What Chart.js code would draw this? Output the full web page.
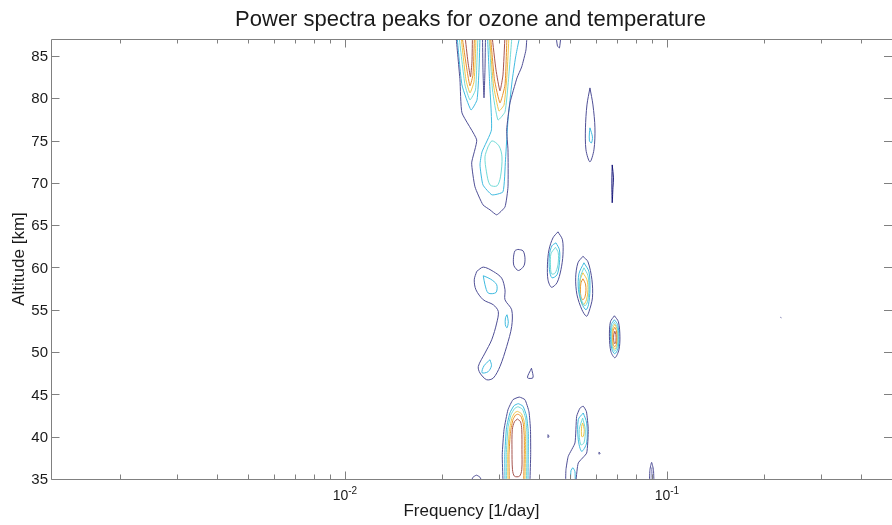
<!DOCTYPE html>
<html>
<head>
<meta charset="utf-8">
<script src="https://cdn.jsdelivr.net/npm/chart.js@4.4.1/dist/chart.umd.min.js"></script>
<style>
  html, body { margin: 0; padding: 0; background: #fff; }
  #wrap { width: 892px; height: 525px; position: relative; }
</style>
</head>
<body>
<div id="wrap"><canvas id="chart_powerSpectraPeaks"></canvas></div>
<script>
// axis ticks
var yTicks = [35, 40, 45, 50, 55, 60, 65, 70, 75, 80, 85];
var xMajorTicks = [0.01, 0.1];
var xMajorExponents = ['-2', '-1'];
var xMinorTicks = [0.002, 0.003, 0.004, 0.005, 0.006, 0.007, 0.008, 0.009,
                   0.02, 0.03, 0.04, 0.05, 0.06, 0.07, 0.08, 0.09,
                   0.2, 0.3, 0.4];

// contour lines, [frequency 1/day, altitude km]
// upper cluster
var navyTopOuter = [[0.02212,87.4],[0.02276,82.17],[0.02309,78.27],[0.02565,75.08],[0.02475,72.36],[0.02534,69.53],[0.02683,67.40],[0.02821,66.81],[0.02960,66.22],[0.03141,67.16],[0.03209,69.53],[0.03209,73.90],[0.03179,76.26],[0.03255,79.45],[0.03422,82.40],[0.03539,83.70],[0.03649,85.71],[0.03675,87.4]];
var navyNotch = [[0.02674,87.4],[0.02683,83.35],[0.02703,80.04],[0.02722,83.35],[0.02732,87.4]];
var navyTopRight = [[0.04522,87.4],[0.04571,86.18],[0.04636,85.94],[0.04686,87.4]];
var cyanL = [[0.02228,87.4],[0.02309,81.57],[0.02463,78.62],[0.02571,79.80],[0.02608,83.35],[0.02627,87.4]];
var turqL = [[0.02260,87.4],[0.02359,81.57],[0.02445,79.80],[0.02543,80.98],[0.02571,84.53],[0.02589,87.4]];
var yellowL = [[0.02292,87.4],[0.02376,82.17],[0.02445,80.63],[0.02516,81.93],[0.02543,85.12],[0.02552,87.4]];
var orangeL = [[0.02309,87.4],[0.02393,83.35],[0.02445,81.46],[0.02498,82.76],[0.02525,87.4]];
var brownL = [[0.02359,87.4],[0.02410,84.29],[0.02454,82.52],[0.02480,84.29],[0.02489,87.4]];
var brownR = [[0.02862,87.4],[0.02945,83.35],[0.03030,80.87],[0.03096,82.76],[0.03141,87.4]];
var orangeR = [[0.02831,87.4],[0.02914,82.17],[0.03030,79.45],[0.03141,81.57],[0.03186,87.4]];
var yellowR = [[0.02811,87.4],[0.02893,81.57],[0.03008,78.50],[0.03119,79.21],[0.03186,82.76],[0.03232,87.4]];
var turqR = [[0.02801,87.4],[0.02872,80.98],[0.02987,77.44],[0.03141,78.39],[0.03220,82.17],[0.03302,87.4]];
var cyanR = [[0.02771,87.4],[0.02811,82.17],[0.02851,76.26],[0.02665,73.66],[0.02627,72.12],[0.02683,69.76],[0.02862,68.58],[0.03096,68.94],[0.03152,72.72],[0.03209,77.44],[0.03302,81.93],[0.03385,84.76],[0.03446,86.30],[0.03496,87.4]];
var turqBulb = [[0.02781,74.25],[0.02862,74.96],[0.03008,74.37],[0.03074,73.07],[0.03041,70.71],[0.02966,69.64],[0.02821,69.76],[0.02751,71.30],[0.02722,73.07],[0.02781,74.25]];
var navyE76 = [[0.05766,81.22],[0.05891,79.21],[0.05976,76.50],[0.05933,73.90],[0.05766,72.48],[0.05604,73.90],[0.05584,76.50],[0.05644,79.21],[0.05766,81.22]];
var cyanE76 = [[0.05766,76.50],[0.05870,75.43],[0.05828,74.72],[0.05745,74.96],[0.05745,75.90],[0.05766,76.50]];
var deepLine = [[0.06762,72.12],[0.06821,70.59],[0.06796,69.41],[0.06762,67.64],[0.06748,69.17],[0.06748,70.59],[0.06762,72.12]];

// middle cluster
var navyLoop61 = [[0.03446,62.14],[0.03572,61.97],[0.03623,61.14],[0.03597,60.20],[0.03458,59.64],[0.03349,60.20],[0.03337,61.14],[0.03373,61.97],[0.03446,62.14]];
var navyE61 = [[0.04587,64.21],[0.04737,63.27],[0.04754,61.49],[0.04686,59.73],[0.04555,58.19],[0.04379,57.66],[0.04271,58.54],[0.04255,60.31],[0.04301,62.08],[0.04426,63.50],[0.04587,64.21]];
var cyanE61 = [[0.04522,62.91],[0.04636,62.08],[0.04636,60.55],[0.04555,59.13],[0.04394,58.78],[0.04316,59.73],[0.04316,61.49],[0.04394,62.56],[0.04522,62.91]];
var turqE61 = [[0.04506,62.38],[0.04597,61.73],[0.04587,60.31],[0.04490,59.31],[0.04379,59.25],[0.04348,60.31],[0.04363,61.61],[0.04506,62.38]];
var navyE57 = [[0.05484,61.32],[0.05685,60.67],[0.05849,58.54],[0.05870,56.41],[0.05725,54.76],[0.05624,54.23],[0.05445,55.00],[0.05255,56.77],[0.05206,58.78],[0.05292,60.55],[0.05484,61.32]];
var cyanE57 = [[0.05524,60.55],[0.05725,59.49],[0.05766,57.36],[0.05705,55.59],[0.05604,55.00],[0.05445,55.71],[0.05311,57.36],[0.05330,59.25],[0.05524,60.55]];
var turqE57 = [[0.05524,59.96],[0.05685,59.02],[0.05725,57.36],[0.05664,55.94],[0.05564,55.47],[0.05426,56.18],[0.05349,57.36],[0.05387,58.90],[0.05524,59.96]];
var yellowE57 = [[0.05484,59.37],[0.05644,58.54],[0.05685,57.36],[0.05624,56.18],[0.05504,55.59],[0.05387,56.18],[0.05360,57.36],[0.05387,58.66],[0.05484,59.37]];
var orangeE57 = [[0.05484,58.66],[0.05584,58.07],[0.05604,57.25],[0.05564,56.53],[0.05484,56.18],[0.05407,56.53],[0.05387,57.36],[0.05407,58.19],[0.05484,58.66]];
var navyE51 = [[0.06869,54.29],[0.07069,53.58],[0.07145,51.81],[0.07094,50.27],[0.06894,49.33],[0.06700,50.04],[0.06628,51.81],[0.06676,53.58],[0.06869,54.29]];
var cyanE51 = [[0.06869,53.82],[0.07033,53.23],[0.07094,51.81],[0.07044,50.39],[0.06884,49.80],[0.06739,50.39],[0.06676,51.81],[0.06715,53.23],[0.06869,53.82]];
var turqE51 = [[0.06869,53.52],[0.07004,52.99],[0.07054,51.81],[0.07009,50.63],[0.06884,50.10],[0.06762,50.63],[0.06715,51.81],[0.06748,52.99],[0.06869,53.52]];
var yellowE51 = [[0.06884,53.29],[0.06993,52.75],[0.07033,51.75],[0.06993,50.75],[0.06884,50.33],[0.06786,50.75],[0.06748,51.75],[0.06777,52.75],[0.06884,53.29]];
var orangeE51 = [[0.06884,52.93],[0.06968,52.52],[0.06993,51.69],[0.06964,50.92],[0.06884,50.63],[0.06810,50.92],[0.06786,51.69],[0.06806,52.52],[0.06884,52.93]];
var brownE51 = [[0.06889,52.46],[0.06944,52.05],[0.06944,51.34],[0.06889,50.98],[0.06835,51.34],[0.06835,52.05],[0.06889,52.46]];
var navyHook = [[0.02565,59.53],[0.02689,60.04],[0.02889,59.53],[0.03067,58.74],[0.03141,57.36],[0.03141,56.18],[0.03295,55.00],[0.03295,53.03],[0.03179,50.66],[0.03030,48.30],[0.02889,46.93],[0.02755,46.73],[0.02627,47.52],[0.02595,48.30],[0.02722,49.88],[0.02856,51.45],[0.02960,53.43],[0.02994,54.80],[0.02889,55.59],[0.02689,56.18],[0.02552,57.36],[0.02521,58.54],[0.02565,59.53]];
var cyanHook1 = [[0.02689,59.02],[0.02835,58.62],[0.02960,57.96],[0.02945,57.04],[0.02787,56.97],[0.02722,57.96],[0.02689,59.02]];
var cyanHook2 = [[0.03186,54.41],[0.03216,53.58],[0.03186,52.87],[0.03148,53.23],[0.03152,54.06],[0.03186,54.41]];
var cyanHook3 = [[0.02821,49.09],[0.02851,48.38],[0.02781,47.67],[0.02665,47.56],[0.02703,48.38],[0.02821,49.09]];
var navyTri = [[0.03796,48.09],[0.03837,46.97],[0.03688,46.97],[0.03796,48.09]];

// lower cluster
var navyB1 = [[0.03096,34.8],[0.03080,37.88],[0.03119,40.83],[0.03209,43.19],[0.03325,44.37],[0.03478,44.68],[0.03623,44.37],[0.03728,42.95],[0.03769,40.83],[0.03774,37.88],[0.03755,34.8]];
var cyanB1 = [[0.03141,34.8],[0.03136,37.88],[0.03175,41.06],[0.03255,42.83],[0.03349,43.66],[0.03453,43.90],[0.03572,43.60],[0.03662,42.48],[0.03709,40.59],[0.03709,37.88],[0.03702,34.8]];
var turqB1 = [[0.03175,34.8],[0.03170,37.88],[0.03209,41.06],[0.03278,42.60],[0.03361,43.31],[0.03446,43.54],[0.03559,43.25],[0.03636,42.24],[0.03675,40.47],[0.03675,37.88],[0.03662,34.8]];
var yellowB1 = [[0.03209,34.8],[0.03204,37.88],[0.03243,40.83],[0.03302,42.24],[0.03368,42.83],[0.03434,42.99],[0.03534,42.71],[0.03605,41.77],[0.03636,40.24],[0.03636,37.88],[0.03623,34.8]];
var orangeB1 = [[0.03239,34.8],[0.03232,37.88],[0.03267,40.59],[0.03325,42.01],[0.03385,42.54],[0.03446,42.66],[0.03521,42.42],[0.03580,41.53],[0.03605,40.00],[0.03605,37.88],[0.03591,34.8]];
var brownB1 = [[0.03434,42.09],[0.03509,41.77],[0.03541,40.83],[0.03546,38.47],[0.03541,36.10],[0.03484,35.33],[0.03361,35.33],[0.03314,36.10],[0.03302,38.47],[0.03309,40.83],[0.03361,41.77],[0.03434,42.09]];
var navyB2 = [[0.04846,34.8],[0.04857,36.10],[0.04937,37.68],[0.05180,39.26],[0.05243,42.40],[0.05368,43.37],[0.05497,43.60],[0.05624,42.95],[0.05697,40.83],[0.05632,38.07],[0.05304,36.89],[0.05217,34.8]];
var cyanB2 = [[0.05497,42.80],[0.05632,41.62],[0.05632,39.26],[0.05433,38.27],[0.05304,39.65],[0.05304,42.01],[0.05497,42.80]];
var turqB2 = [[0.05473,42.21],[0.05576,40.83],[0.05524,39.26],[0.05395,39.06],[0.05341,40.83],[0.05473,42.21]];
var yellowB2 = [[0.05473,41.62],[0.05536,40.83],[0.05497,40.04],[0.05433,40.04],[0.05433,41.22],[0.05473,41.62]];
var cyanB3 = [[0.05016,34.8],[0.05034,35.98],[0.05106,36.34],[0.05180,35.87],[0.05191,34.8]];
var navyArchL = [[0.02471,34.8],[0.02498,35.21],[0.02561,35.45],[0.02627,35.21],[0.02655,34.8]];
var navyArchR = [[0.08823,34.8],[0.08855,36.10],[0.08962,36.97],[0.09079,36.10],[0.09112,34.8]];
var lilacArchR = [[0.08919,34.8],[0.08970,36.34],[0.09023,34.8]];
var navySpeck1 = [[0.04271,40.24],[0.04301,40.06],[0.04271,39.89],[0.04271,40.24]];
var navySpeck2 = [[0.06149,38.17],[0.06206,38.05],[0.06149,37.93],[0.06149,38.17]];
var navySpeck3 = [[0.2251,54.11],[0.2267,54.05]];

var levelColors = {
    navy: '#4f4f96', deep: '#16167a', lilac: '#9a9ac8', cyan: '#3fbbe0',
    turq: '#72dbd8', yellow: '#f0c648', orange: '#e8902c', brown: '#a6544e'
};

var contourList = [
    ['navy', navyTopOuter], ['navy', navyNotch], ['navy', navyTopRight],
    ['cyan', cyanL], ['turq', turqL], ['yellow', yellowL], ['orange', orangeL], ['brown', brownL],
    ['brown', brownR], ['orange', orangeR], ['yellow', yellowR], ['turq', turqR], ['cyan', cyanR],
    ['turq', turqBulb], ['navy', navyE76], ['cyan', cyanE76], ['deep', deepLine],
    ['navy', navyLoop61], ['navy', navyE61], ['cyan', cyanE61], ['turq', turqE61],
    ['navy', navyE57], ['cyan', cyanE57], ['turq', turqE57], ['yellow', yellowE57], ['orange', orangeE57],
    ['navy', navyE51], ['cyan', cyanE51], ['turq', turqE51], ['yellow', yellowE51], ['orange', orangeE51], ['brown', brownE51],
    ['navy', navyHook], ['cyan', cyanHook1], ['cyan', cyanHook2], ['cyan', cyanHook3], ['navy', navyTri],
    ['navy', navyB1], ['cyan', cyanB1], ['turq', turqB1], ['yellow', yellowB1], ['orange', orangeB1], ['brown', brownB1],
    ['navy', navyB2], ['cyan', cyanB2], ['turq', turqB2], ['yellow', yellowB2], ['cyan', cyanB3],
    ['navy', navyArchL], ['navy', navyArchR], ['lilac', lilacArchR],
    ['navy', navySpeck1], ['navy', navySpeck2], ['navy', navySpeck3]
];

var datasets = contourList.map(function (c) {
    var pts = c[1];
    var closed = pts.length > 3 && pts[0][0] === pts[pts.length - 1][0] && pts[0][1] === pts[pts.length - 1][1];
    return {
        data: pts.map(function (p) { return { x: p[0], y: p[1] }; }),
        showLine: true,
        borderColor: levelColors[c[0]],
        borderWidth: 1,
        pointRadius: 0,
        tension: closed ? 0.3 : 0.15
    };
});

var FONT = '"Liberation Sans", Arial, sans-serif';
var AXIS_GRAY = '#808080';

var matlabAxes = {
    id: 'matlabAxes',
    beforeDraw: function (chart) {
        var ctx = chart.ctx;
        ctx.save();
        ctx.fillStyle = '#ffffff';
        ctx.fillRect(0, 0, chart.width, chart.height);
        ctx.restore();
    },
    afterDraw: function (chart) {
        var ctx = chart.ctx, a = chart.chartArea;
        var xs = chart.scales.x, ys = chart.scales.y;
        var L = Math.round(a.left) + 0.5, R = Math.round(a.right) + 0.5;
        var T = Math.round(a.top) + 0.5, B = Math.round(a.bottom) + 0.5;
        ctx.save();
        ctx.strokeStyle = AXIS_GRAY;
        ctx.lineWidth = 1;
        ctx.beginPath();
        // box: right side lies on the canvas edge, so only left/top/bottom show
        ctx.moveTo(L, T); ctx.lineTo(R, T);
        ctx.moveTo(L, B); ctx.lineTo(R, B);
        ctx.moveTo(L, T); ctx.lineTo(L, B);
        // y ticks, both sides, pointing in
        yTicks.forEach(function (v) {
            var py = Math.round(ys.getPixelForValue(v)) + 0.5;
            ctx.moveTo(L, py); ctx.lineTo(L + 8, py);
            ctx.moveTo(a.right, py); ctx.lineTo(a.right - 8, py);
        });
        xMajorTicks.forEach(function (v) {
            var px = Math.round(xs.getPixelForValue(v)) + 0.5;
            ctx.moveTo(px, B); ctx.lineTo(px, B - 8);
            ctx.moveTo(px, T); ctx.lineTo(px, T + 8);
        });
        xMinorTicks.forEach(function (v) {
            var px = Math.round(xs.getPixelForValue(v)) + 0.5;
            ctx.moveTo(px, B); ctx.lineTo(px, B - 5);
            ctx.moveTo(px, T); ctx.lineTo(px, T + 4);
        });
        ctx.stroke();

        ctx.fillStyle = '#1a1a1a';
        // y tick labels
        ctx.font = '15px ' + FONT;
        ctx.textAlign = 'right';
        ctx.textBaseline = 'middle';
        yTicks.forEach(function (v) {
            ctx.fillText(String(v), a.left - 3, ys.getPixelForValue(v) + 1);
        });
        // x tick labels 10^n
        ctx.textAlign = 'left';
        ctx.textBaseline = 'alphabetic';
        xMajorTicks.forEach(function (v, i) {
            var px = xs.getPixelForValue(v);
            ctx.font = '14px ' + FONT;
            var wBase = ctx.measureText('10').width;
            ctx.font = '10px ' + FONT;
            var wExp = ctx.measureText(xMajorExponents[i]).width;
            var x0 = px - (wBase + wExp) / 2;
            ctx.font = '14px ' + FONT;
            ctx.fillText('10', x0, 500);
            ctx.font = '10px ' + FONT;
            ctx.fillText(xMajorExponents[i], x0 + wBase, 494);
        });
        // titles
        ctx.textAlign = 'center';
        ctx.font = '22px ' + FONT;
        ctx.fillText('Power spectra peaks for ozone and temperature', (a.left + a.right) / 2 - 1, 26);
        ctx.font = '17px ' + FONT;
        ctx.fillText('Frequency [1/day]', (a.left + a.right) / 2, 516);
        ctx.translate(24, (a.top + a.bottom) / 2);
        ctx.rotate(-Math.PI / 2);
        ctx.fillText('Altitude [km]', 0, 0);
        ctx.restore();
    }
};

var chart_powerSpectraPeaks = new Chart(document.getElementById('chart_powerSpectraPeaks'), {
    type: 'scatter',
    data: { datasets: datasets },
    options: {
        animation: false,
        responsive: true,
        maintainAspectRatio: false,
        devicePixelRatio: 1,
        layout: { padding: { left: 51, right: 0, top: 39, bottom: 46 } },
        plugins: {
            legend: { display: false },
            title: { display: false },
            tooltip: { enabled: false }
        },
        events: [],
        scales: {
            x: { type: 'logarithmic', min: 0.001222, max: 0.5, display: false },
            y: { type: 'linear', min: 35, max: 87, display: false }
        }
    },
    plugins: [matlabAxes]
});
</script>
</body>
</html>
